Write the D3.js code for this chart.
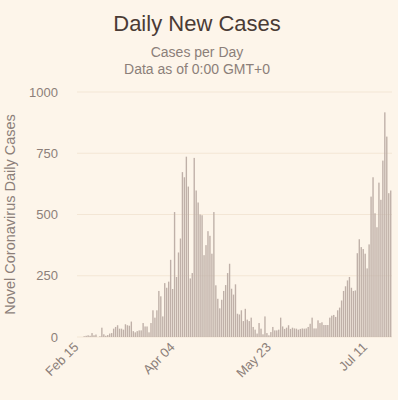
<!DOCTYPE html>
<html>
<head>
<meta charset="utf-8">
<script src="https://cdn.jsdelivr.net/npm/d3@7"></script>
<style>
  body { margin: 0; background: #fdf5ea; }
  svg { display: block; font-family: "Liberation Sans", Arial, sans-serif; }
</style>
</head>
<body>
<div id="chart"></div>
<script>
// daily new cases, starting Feb 15
var startDate = "2020-02-15";
var dailyCases = [
  0, 0, 0, 3, 5, 7, 5, 16, 7, 10, 0, 3, 38, 11, 5, 8, 14, 16, 34, 41, 48, 34,
  34, 30, 52, 48, 46, 63, 24, 19, 24, 27, 27, 57, 43, 43, 19, 57, 109, 79, 109,
  188, 166, 84, 220, 201, 226, 315, 196, 510, 245, 345, 402, 673, 652, 736, 614,
  239, 261, 731, 598, 549, 500, 497, 334, 375, 432, 413, 340, 510, 211, 156, 117,
  152, 188, 212, 261, 299, 197, 173, 215, 95, 92, 109, 65, 115, 71, 65, 79, 41,
  30, 14, 57, 34, 11, 84, 16, 7, 20, 41, 27, 27, 30, 79, 43, 33, 38, 48, 33, 38,
  35, 34, 30, 33, 35, 34, 35, 41, 54, 79, 35, 35, 68, 57, 60, 49, 49, 49, 79, 87,
  90, 82, 109, 120, 149, 188, 207, 231, 245, 201, 188, 190, 342, 399, 367, 359,
  340, 280, 378, 573, 652, 505, 448, 630, 560, 720, 917, 818, 587, 598
];
var yTicks = [0, 250, 500, 750, 1000];
var tickEvery = 49;

var width = 398, height = 400;
var margin = {top: 92, right: 6, bottom: 63, left: 77};

var parse = d3.timeParse("%Y-%m-%d");
var fmt = d3.timeFormat("%b %d");
var t0 = parse(startDate);
var data = dailyCases.map(function(v, i) {
  return {date: d3.timeDay.offset(t0, i), value: v};
});

var svg = d3.select("#chart").append("svg")
  .attr("width", width)
  .attr("height", height);

svg.append("rect").attr("width", width).attr("height", height).attr("fill", "#fdf5ea");

var x = d3.scaleBand()
  .domain(data.map(function(d) { return d.date; }))
  .range([margin.left, width - margin.right])
  .padding(0.3);

var y = d3.scaleLinear()
  .domain([0, 1000])
  .range([height - margin.bottom, margin.top]);

// gridlines
svg.append("g")
  .selectAll("line")
  .data(yTicks)
  .enter()
  .append("line")
  .attr("x1", margin.left)
  .attr("x2", width - margin.right)
  .attr("y1", function(d) { return y(d); })
  .attr("y2", function(d) { return y(d); })
  .attr("stroke", "#f3e6d5")
  .attr("stroke-width", 1);

// y labels
var yAxis = svg.append("g")
  .attr("transform", "translate(" + (margin.left - 19) + ",0)")
  .call(d3.axisLeft(y).tickValues(yTicks).tickFormat(d3.format("d")).tickSize(0).tickPadding(0));
yAxis.select(".domain").remove();
yAxis.selectAll("text")
  .attr("fill", "#8c7f79")
  .attr("font-size", "13px")
  .attr("font-family", "Liberation Sans, Arial, sans-serif");

// bars
svg.append("g")
  .selectAll("rect")
  .data(data)
  .enter()
  .append("rect")
  .attr("x", function(d) { return x(d.date); })
  .attr("y", function(d) { return y(d.value); })
  .attr("width", x.bandwidth())
  .attr("height", function(d) { return y(0) - y(d.value); })
  .attr("fill", "#bfb0a8");

// x labels
var xTickDates = data.filter(function(d, i) { return i % tickEvery === 0; }).map(function(d) { return d.date; });
var xAxis = svg.append("g")
  .attr("transform", "translate(0," + (height - margin.bottom) + ")")
  .call(d3.axisBottom(x).tickValues(xTickDates).tickFormat(fmt).tickSize(0).tickPadding(0));
xAxis.select(".domain").remove();
xAxis.selectAll("text")
  .attr("fill", "#8c7f79")
  .attr("font-size", "13px")
  .attr("font-family", "Liberation Sans, Arial, sans-serif")
  .attr("text-anchor", "end")
  .attr("dy", null)
  .attr("y", 0)
  .attr("transform", "translate(1,11) rotate(-45)");

// titles
svg.append("text")
  .attr("x", 197)
  .attr("y", 31)
  .attr("text-anchor", "middle")
  .attr("font-size", "22px")
  .attr("fill", "#4a3b35")
  .text("Daily New Cases");

svg.append("text")
  .attr("x", 197)
  .attr("y", 57)
  .attr("text-anchor", "middle")
  .attr("font-size", "14px")
  .attr("fill", "#8c7f79")
  .text("Cases per Day");

svg.append("text")
  .attr("x", 197)
  .attr("y", 74)
  .attr("text-anchor", "middle")
  .attr("font-size", "14px")
  .attr("fill", "#8c7f79")
  .text("Data as of 0:00 GMT+0");

svg.append("text")
  .attr("transform", "translate(15," + ((margin.top + height - margin.bottom) / 2) + ") rotate(-90)")
  .attr("text-anchor", "middle")
  .attr("font-size", "14.5px")
  .attr("fill", "#8c7f79")
  .text("Novel Coronavirus Daily Cases");
</script>
</body>
</html>
